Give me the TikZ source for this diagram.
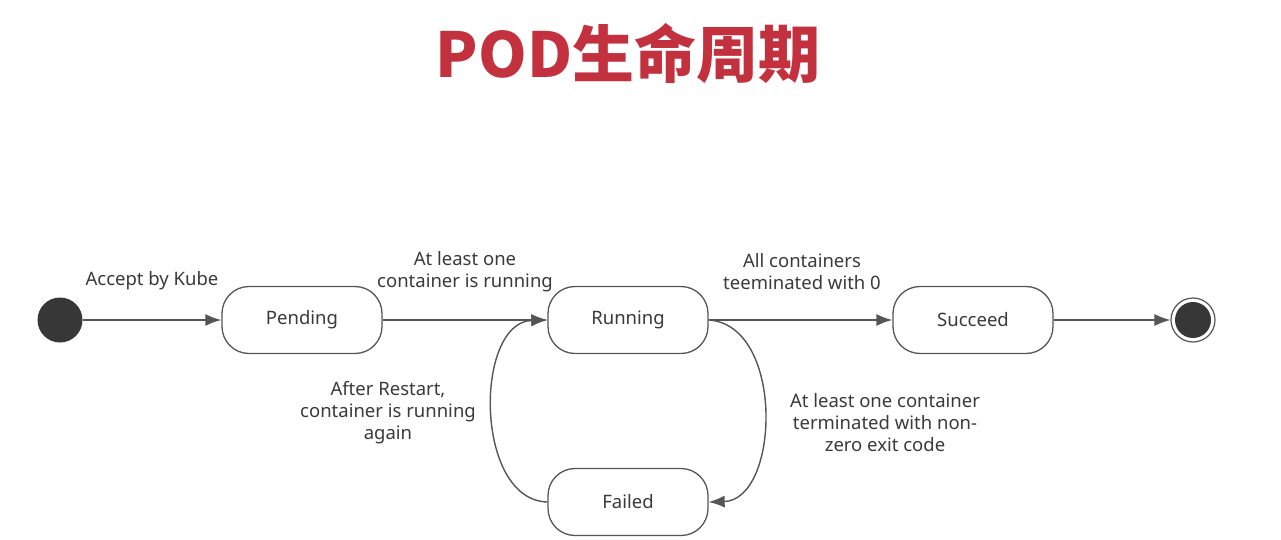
\documentclass[tikz,border=0pt]{standalone}
\usepackage{fontspec}
\setmainfont{Noto Sans}
\newfontfamily\cjk{Noto Sans CJK SC}
\usetikzlibrary{arrows.meta}
\definecolor{titlered}{HTML}{C3313F}
\definecolor{ink}{HTML}{3A3A3A}
\definecolor{edge}{HTML}{555555}
\tikzset{
  state/.style={draw=edge, line width=1.3pt, fill=white, rounded corners=27pt,
    minimum width=160pt, minimum height=67pt, font=\fontsize{18.5}{22}\selectfont, text=ink, inner sep=0pt},
  conn/.style={draw=edge, line width=1.4pt, -{Latex[length=16pt,width=12pt]}},
  lbl/.style={font=\fontsize{18.5}{22}\selectfont, text=ink, align=center, inner sep=0pt},
}
\begin{document}
\begin{tikzpicture}[x=1pt,y=-1pt]
\useasboundingbox (0,0) rectangle (1281,540);
\node[font=\cjk\bfseries\fontsize{62}{68}\selectfont, text=titlered] (title) at (628,53) {POD生命周期};

\node[circle, fill=ink!95!black, minimum size=45pt, inner sep=0pt] (start) at (60,320) {};
\node[state] (pending) at (302,320) {\raisebox{-1pt}{Pending}};
\node[state] (running) at (628,320) {\raisebox{-1pt}{Running}};
\node[state] (succeed) at (973,320) {\raisebox{-1pt}{Succeed}};
\node[state] (failed) at (628,502) {\raisebox{-1pt}{Failed}};
\node[circle, draw=edge, line width=1.2pt, minimum size=44pt, inner sep=0pt] (endo) at (1193,320) {};
\node[circle, fill=ink!95!black, minimum size=36pt, inner sep=0pt] (endi) at (1193,320) {};

\draw[conn] (start) -- (pending);
\draw[conn] (pending) -- (running);
\draw[conn] (running) -- (succeed);
\draw[conn] (succeed) -- (endo);
\draw[conn] (running.east) .. controls (785,325) and (780,500) .. (failed.east);
\draw[conn] (failed.west) .. controls (474,500) and (474,322) .. (running.west);

\node[lbl] (l1) at (152,281) {Accept by Kube};
\node[lbl] (l2) at (465,272) {At least one\\container is running};
\node[lbl] (l3) at (802,272) {All containers\\teeminated with 0};
\node[lbl] (l4) at (388,413) {After Restart,\\container is running\\again};
\node[lbl] (l5) at (885,423) {At least one container\\terminated with non-\\zero exit code};
\end{tikzpicture}
\end{document}
